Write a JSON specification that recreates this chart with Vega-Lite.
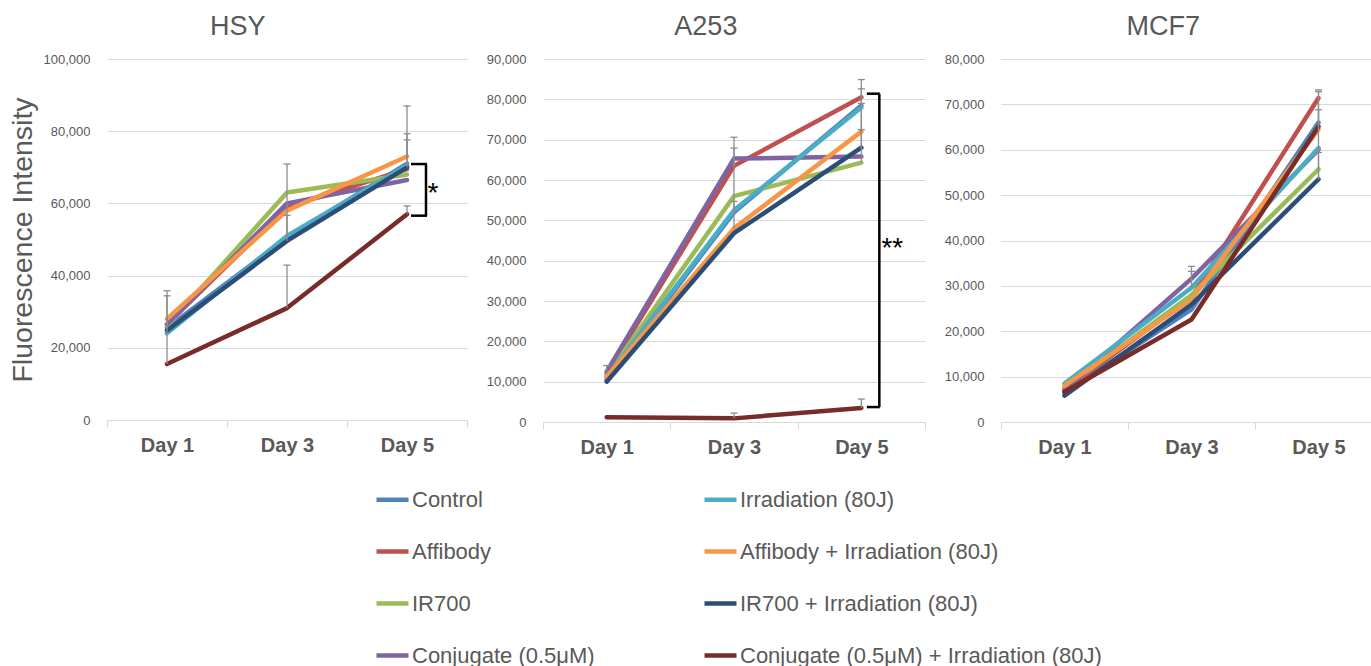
{
  "$schema": "https://vega.github.io/schema/vega-lite/v6.json",
  "padding": {"left": 8, "top": 13, "right": 0, "bottom": 0},
  "background": "white",
  "config": {
    "font": "Liberation Sans",
    "numberFormat": ",",
    "view": {"stroke": null},
    "title": {"fontSize": 27, "fontWeight": "normal", "color": "#595959", "offset": 12, "frame": "bounds", "anchor": "middle", "font": "Liberation Sans"},
    "axisX": {"labelFontSize": 20, "labelFontWeight": "bold", "labelColor": "#595959", "domainColor": "#d9d9d9", "tickColor": "#d9d9d9", "tickSize": 7, "tickBand": "extent", "labelAngle": 0, "labelPadding": 8, "grid": false, "title": null},
    "axisY": {"domain": false, "ticks": false, "labelFontSize": 13, "labelColor": "#595959", "labelPadding": 17, "gridColor": "#d9d9d9", "titleFontSize": 28.5, "titleFontWeight": "normal", "titleColor": "#595959", "titlePadding": 6, "labelExpr": "format(datum.value, ',')"}
  },
  "datasets": {
    "lines": [
      {"cell": "HSY", "day": "Day 1", "series": "Control", "v": 25500},
      {"cell": "HSY", "day": "Day 3", "series": "Control", "v": 50500},
      {"cell": "HSY", "day": "Day 5", "series": "Control", "v": 71000},
      {"cell": "HSY", "day": "Day 1", "series": "Affibody", "v": 26500},
      {"cell": "HSY", "day": "Day 3", "series": "Affibody", "v": 59000},
      {"cell": "HSY", "day": "Day 5", "series": "Affibody", "v": 69500},
      {"cell": "HSY", "day": "Day 1", "series": "IR700", "v": 26000},
      {"cell": "HSY", "day": "Day 3", "series": "IR700", "v": 63000},
      {"cell": "HSY", "day": "Day 5", "series": "IR700", "v": 68000},
      {"cell": "HSY", "day": "Day 1", "series": "Conjugate (0.5μM)", "v": 26500},
      {"cell": "HSY", "day": "Day 3", "series": "Conjugate (0.5μM)", "v": 60000},
      {"cell": "HSY", "day": "Day 5", "series": "Conjugate (0.5μM)", "v": 66500},
      {"cell": "HSY", "day": "Day 1", "series": "Irradiation (80J)", "v": 24000},
      {"cell": "HSY", "day": "Day 3", "series": "Irradiation (80J)", "v": 51000},
      {"cell": "HSY", "day": "Day 5", "series": "Irradiation (80J)", "v": 70500},
      {"cell": "HSY", "day": "Day 1", "series": "Affibody + Irradiation (80J)", "v": 28000},
      {"cell": "HSY", "day": "Day 3", "series": "Affibody + Irradiation (80J)", "v": 58000},
      {"cell": "HSY", "day": "Day 5", "series": "Affibody + Irradiation (80J)", "v": 73000},
      {"cell": "HSY", "day": "Day 1", "series": "IR700 + Irradiation (80J)", "v": 24800},
      {"cell": "HSY", "day": "Day 3", "series": "IR700 + Irradiation (80J)", "v": 49600},
      {"cell": "HSY", "day": "Day 5", "series": "IR700 + Irradiation (80J)", "v": 70000},
      {"cell": "HSY", "day": "Day 1", "series": "Conjugate (0.5μM) + Irradiation (80J)", "v": 15500},
      {"cell": "HSY", "day": "Day 3", "series": "Conjugate (0.5μM) + Irradiation (80J)", "v": 31000},
      {"cell": "HSY", "day": "Day 5", "series": "Conjugate (0.5μM) + Irradiation (80J)", "v": 57000},

      {"cell": "A253", "day": "Day 1", "series": "Control", "v": 10500},
      {"cell": "A253", "day": "Day 3", "series": "Control", "v": 52000},
      {"cell": "A253", "day": "Day 5", "series": "Control", "v": 78500},
      {"cell": "A253", "day": "Day 1", "series": "Affibody", "v": 12000},
      {"cell": "A253", "day": "Day 3", "series": "Affibody", "v": 63500},
      {"cell": "A253", "day": "Day 5", "series": "Affibody", "v": 80500},
      {"cell": "A253", "day": "Day 1", "series": "IR700", "v": 11500},
      {"cell": "A253", "day": "Day 3", "series": "IR700", "v": 56000},
      {"cell": "A253", "day": "Day 5", "series": "IR700", "v": 64300},
      {"cell": "A253", "day": "Day 1", "series": "Conjugate (0.5μM)", "v": 12500},
      {"cell": "A253", "day": "Day 3", "series": "Conjugate (0.5μM)", "v": 65300},
      {"cell": "A253", "day": "Day 5", "series": "Conjugate (0.5μM)", "v": 65800},
      {"cell": "A253", "day": "Day 1", "series": "Irradiation (80J)", "v": 11000},
      {"cell": "A253", "day": "Day 3", "series": "Irradiation (80J)", "v": 52500},
      {"cell": "A253", "day": "Day 5", "series": "Irradiation (80J)", "v": 78000},
      {"cell": "A253", "day": "Day 1", "series": "Affibody + Irradiation (80J)", "v": 11200},
      {"cell": "A253", "day": "Day 3", "series": "Affibody + Irradiation (80J)", "v": 48000},
      {"cell": "A253", "day": "Day 5", "series": "Affibody + Irradiation (80J)", "v": 72000},
      {"cell": "A253", "day": "Day 1", "series": "IR700 + Irradiation (80J)", "v": 10000},
      {"cell": "A253", "day": "Day 3", "series": "IR700 + Irradiation (80J)", "v": 46800},
      {"cell": "A253", "day": "Day 5", "series": "IR700 + Irradiation (80J)", "v": 68000},
      {"cell": "A253", "day": "Day 1", "series": "Conjugate (0.5μM) + Irradiation (80J)", "v": 1200},
      {"cell": "A253", "day": "Day 3", "series": "Conjugate (0.5μM) + Irradiation (80J)", "v": 900},
      {"cell": "A253", "day": "Day 5", "series": "Conjugate (0.5μM) + Irradiation (80J)", "v": 3500},

      {"cell": "MCF7", "day": "Day 1", "series": "Control", "v": 6500},
      {"cell": "MCF7", "day": "Day 3", "series": "Control", "v": 24800},
      {"cell": "MCF7", "day": "Day 5", "series": "Control", "v": 66000},
      {"cell": "MCF7", "day": "Day 1", "series": "Affibody", "v": 7000},
      {"cell": "MCF7", "day": "Day 3", "series": "Affibody", "v": 27500},
      {"cell": "MCF7", "day": "Day 5", "series": "Affibody", "v": 71400},
      {"cell": "MCF7", "day": "Day 1", "series": "IR700", "v": 7500},
      {"cell": "MCF7", "day": "Day 3", "series": "IR700", "v": 28000},
      {"cell": "MCF7", "day": "Day 5", "series": "IR700", "v": 55700},
      {"cell": "MCF7", "day": "Day 1", "series": "Conjugate (0.5μM)", "v": 7000},
      {"cell": "MCF7", "day": "Day 3", "series": "Conjugate (0.5μM)", "v": 31600},
      {"cell": "MCF7", "day": "Day 5", "series": "Conjugate (0.5μM)", "v": 60000},
      {"cell": "MCF7", "day": "Day 1", "series": "Irradiation (80J)", "v": 8500},
      {"cell": "MCF7", "day": "Day 3", "series": "Irradiation (80J)", "v": 29600},
      {"cell": "MCF7", "day": "Day 5", "series": "Irradiation (80J)", "v": 60400},
      {"cell": "MCF7", "day": "Day 1", "series": "Affibody + Irradiation (80J)", "v": 8000},
      {"cell": "MCF7", "day": "Day 3", "series": "Affibody + Irradiation (80J)", "v": 27000},
      {"cell": "MCF7", "day": "Day 5", "series": "Affibody + Irradiation (80J)", "v": 64500},
      {"cell": "MCF7", "day": "Day 1", "series": "IR700 + Irradiation (80J)", "v": 5800},
      {"cell": "MCF7", "day": "Day 3", "series": "IR700 + Irradiation (80J)", "v": 25900},
      {"cell": "MCF7", "day": "Day 5", "series": "IR700 + Irradiation (80J)", "v": 53500},
      {"cell": "MCF7", "day": "Day 1", "series": "Conjugate (0.5μM) + Irradiation (80J)", "v": 6600},
      {"cell": "MCF7", "day": "Day 3", "series": "Conjugate (0.5μM) + Irradiation (80J)", "v": 22600},
      {"cell": "MCF7", "day": "Day 5", "series": "Conjugate (0.5μM) + Irradiation (80J)", "v": 65100}
    ],
    "err": [
      {"cell": "HSY", "day": "Day 1", "lo": 15500, "hi": 35800},
      {"cell": "HSY", "day": "Day 1", "lo": 25500, "hi": 34400},
      {"cell": "HSY", "day": "Day 3", "lo": 51000, "hi": 70900},
      {"cell": "HSY", "day": "Day 3", "lo": 49600, "hi": 56700},
      {"cell": "HSY", "day": "Day 3", "lo": 31000, "hi": 42900},
      {"cell": "HSY", "day": "Day 5", "lo": 71000, "hi": 87000},
      {"cell": "HSY", "day": "Day 5", "lo": 73000, "hi": 79300},
      {"cell": "HSY", "day": "Day 5", "lo": 70000, "hi": 77600},
      {"cell": "HSY", "day": "Day 5", "lo": 57000, "hi": 59300},
      {"cell": "A253", "day": "Day 1", "lo": 12500, "hi": 14000},
      {"cell": "A253", "day": "Day 3", "lo": 52500, "hi": 70600},
      {"cell": "A253", "day": "Day 3", "lo": 63500, "hi": 67900},
      {"cell": "A253", "day": "Day 3", "lo": 48000, "hi": 54700},
      {"cell": "A253", "day": "Day 3", "lo": 900, "hi": 2200},
      {"cell": "A253", "day": "Day 5", "lo": 64300, "hi": 84900},
      {"cell": "A253", "day": "Day 5", "lo": 78000, "hi": 82600},
      {"cell": "A253", "day": "Day 5", "lo": 72000, "hi": 79000},
      {"cell": "A253", "day": "Day 5", "lo": 68000, "hi": 72500},
      {"cell": "A253", "day": "Day 5", "lo": 3500, "hi": 5700},
      {"cell": "MCF7", "day": "Day 3", "lo": 29600, "hi": 34300},
      {"cell": "MCF7", "day": "Day 3", "lo": 31600, "hi": 33200},
      {"cell": "MCF7", "day": "Day 5", "lo": 53500, "hi": 73200},
      {"cell": "MCF7", "day": "Day 5", "lo": 66000, "hi": 72800},
      {"cell": "MCF7", "day": "Day 5", "lo": 65000, "hi": 68800},
      {"cell": "MCF7", "day": "Day 5", "lo": 53500, "hi": 59400}
    ],
    "brk": [
      {"cell": "HSY", "day": "Day 5", "top": 70900, "bottom": 56600, "label": "*", "ly": 62700},
      {"cell": "A253", "day": "Day 5", "top": 81400, "bottom": 3700, "label": "**", "ly": 43000}
    ]
  },
  "resolve": {"scale": {"color": "shared", "x": "independent", "y": "independent"}},
  "spacing": 18,
  "hconcat": [
    {
      "width": 360, "height": 361,
      "title": "HSY",
      "layer": [
        {
          "data": {"name": "lines"},
          "transform": [{"filter": "datum.cell === 'HSY'"}],
          "mark": {"type": "line", "strokeWidth": 4.5, "strokeCap": "round", "strokeJoin": "round"},
          "encoding": {
            "x": {"field": "day", "type": "nominal", "scale": {"type": "band", "paddingInner": 0, "paddingOuter": 0, "domain": ["Day 1", "Day 3", "Day 5"]}},
            "y": {"field": "v", "type": "quantitative", "scale": {"domain": [0, 100000]}, "axis": {"title": "Fluorescence Intensity", "format": ",", "values": [0, 10000, 20000, 30000, 40000, 50000, 60000, 70000, 80000, 90000, 100000]}},
            "color": {"field": "series", "type": "nominal",
              "scale": {"domain": ["Control", "Affibody", "IR700", "Conjugate (0.5μM)", "Irradiation (80J)", "Affibody + Irradiation (80J)", "IR700 + Irradiation (80J)", "Conjugate (0.5μM) + Irradiation (80J)"],
                        "range": ["#4F81BD", "#C0504D", "#9BBB59", "#8064A2", "#4BACC6", "#F79646", "#2C4D75", "#772C2A"]},
              "legend": {"title": null, "orient": "none", "legendX": 267, "legendY": 422, "columns": 2, "gridAlign": "each", "columnPadding": 100, "rowPadding": 22, "symbolType": "stroke", "symbolSize": 1024, "symbolStrokeWidth": 4.5, "labelFont": "Liberation Sans", "labelFontSize": 22, "labelColor": "#595959", "labelOffset": 1, "labelLimit": 600}}
          }
        },
        {
          "data": {"name": "err"},
          "transform": [{"filter": "datum.cell === 'HSY'"}],
          "mark": {"type": "rule", "color": "#8c8c8c", "strokeWidth": 1.3},
          "encoding": {
            "x": {"field": "day", "type": "nominal"},
            "y": {"field": "lo", "type": "quantitative"},
            "y2": {"field": "hi"}
          }
        },
        {
          "data": {"name": "err"},
          "transform": [{"filter": "datum.cell === 'HSY'"}],
          "mark": {"type": "tick", "color": "#8c8c8c", "size": 7, "thickness": 1.3, "opacity": 1},
          "encoding": {
            "x": {"field": "day", "type": "nominal"},
            "y": {"field": "hi", "type": "quantitative"}
          }
        },
        {
          "data": {"name": "brk"},
          "transform": [{"filter": "datum.cell === 'HSY'"}],
          "mark": {"type": "rule", "color": "black", "strokeWidth": 2.5, "xOffset": 19},
          "encoding": {
            "x": {"field": "day", "type": "nominal"},
            "y": {"field": "top", "type": "quantitative"},
            "y2": {"field": "bottom"}
          }
        },
        {
          "data": {"name": "brk"},
          "transform": [{"filter": "datum.cell === 'HSY'"}, {"fold": ["top", "bottom"], "as": ["end", "val"]}],
          "mark": {"type": "tick", "color": "black", "size": 16, "thickness": 2.5, "xOffset": 12, "opacity": 1},
          "encoding": {
            "x": {"field": "day", "type": "nominal"},
            "y": {"field": "val", "type": "quantitative"}
          }
        },
        {
          "data": {"name": "brk"},
          "transform": [{"filter": "datum.cell === 'HSY'"}],
          "mark": {"type": "text", "fontSize": 28, "color": "black", "xOffset": 26, "baseline": "middle"},
          "encoding": {
            "x": {"field": "day", "type": "nominal"},
            "y": {"field": "ly", "type": "quantitative"},
            "text": {"field": "label"}
          }
        }
      ]
    },
    {
      "width": 382, "height": 363,
      "title": "A253",
      "layer": [
        {
          "data": {"name": "lines"},
          "transform": [{"filter": "datum.cell === 'A253'"}],
          "mark": {"type": "line", "strokeWidth": 4.5, "strokeCap": "round", "strokeJoin": "round"},
          "encoding": {
            "x": {"field": "day", "type": "nominal", "scale": {"type": "band", "paddingInner": 0, "paddingOuter": 0, "domain": ["Day 1", "Day 3", "Day 5"]}},
            "y": {"field": "v", "type": "quantitative", "scale": {"domain": [0, 90000]}, "axis": {"title": null, "format": ",", "values": [0, 10000, 20000, 30000, 40000, 50000, 60000, 70000, 80000, 90000]}},
            "color": {"field": "series", "type": "nominal"}
          }
        },
        {
          "data": {"name": "err"},
          "transform": [{"filter": "datum.cell === 'A253'"}],
          "mark": {"type": "rule", "color": "#8c8c8c", "strokeWidth": 1.3},
          "encoding": {
            "x": {"field": "day", "type": "nominal"},
            "y": {"field": "lo", "type": "quantitative"},
            "y2": {"field": "hi"}
          }
        },
        {
          "data": {"name": "err"},
          "transform": [{"filter": "datum.cell === 'A253'"}],
          "mark": {"type": "tick", "color": "#8c8c8c", "size": 7, "thickness": 1.3, "opacity": 1},
          "encoding": {
            "x": {"field": "day", "type": "nominal"},
            "y": {"field": "hi", "type": "quantitative"}
          }
        },
        {
          "data": {"name": "brk"},
          "transform": [{"filter": "datum.cell === 'A253'"}],
          "mark": {"type": "rule", "color": "black", "strokeWidth": 2.5, "xOffset": 18},
          "encoding": {
            "x": {"field": "day", "type": "nominal"},
            "y": {"field": "top", "type": "quantitative"},
            "y2": {"field": "bottom"}
          }
        },
        {
          "data": {"name": "brk"},
          "transform": [{"filter": "datum.cell === 'A253'"}, {"fold": ["top", "bottom"], "as": ["end", "val"]}],
          "mark": {"type": "tick", "color": "black", "size": 13, "thickness": 2.5, "xOffset": 12, "opacity": 1},
          "encoding": {
            "x": {"field": "day", "type": "nominal"},
            "y": {"field": "val", "type": "quantitative"}
          }
        },
        {
          "data": {"name": "brk"},
          "transform": [{"filter": "datum.cell === 'A253'"}],
          "mark": {"type": "text", "fontSize": 28, "color": "black", "xOffset": 31, "baseline": "middle"},
          "encoding": {
            "x": {"field": "day", "type": "nominal"},
            "y": {"field": "ly", "type": "quantitative"},
            "text": {"field": "label"}
          }
        }
      ]
    },
    {
      "width": 381, "height": 363,
      "title": "MCF7",
      "layer": [
        {
          "data": {"name": "lines"},
          "transform": [{"filter": "datum.cell === 'MCF7'"}],
          "mark": {"type": "line", "strokeWidth": 4.5, "strokeCap": "round", "strokeJoin": "round"},
          "encoding": {
            "x": {"field": "day", "type": "nominal", "scale": {"type": "band", "paddingInner": 0, "paddingOuter": 0, "domain": ["Day 1", "Day 3", "Day 5"]}},
            "y": {"field": "v", "type": "quantitative", "scale": {"domain": [0, 80000]}, "axis": {"title": null, "format": ",", "values": [0, 10000, 20000, 30000, 40000, 50000, 60000, 70000, 80000]}},
            "color": {"field": "series", "type": "nominal"}
          }
        },
        {
          "data": {"name": "err"},
          "transform": [{"filter": "datum.cell === 'MCF7'"}],
          "mark": {"type": "rule", "color": "#8c8c8c", "strokeWidth": 1.3},
          "encoding": {
            "x": {"field": "day", "type": "nominal"},
            "y": {"field": "lo", "type": "quantitative"},
            "y2": {"field": "hi"}
          }
        },
        {
          "data": {"name": "err"},
          "transform": [{"filter": "datum.cell === 'MCF7'"}],
          "mark": {"type": "tick", "color": "#8c8c8c", "size": 7, "thickness": 1.3, "opacity": 1},
          "encoding": {
            "x": {"field": "day", "type": "nominal"},
            "y": {"field": "hi", "type": "quantitative"}
          }
        }
      ]
    }
  ]
}
